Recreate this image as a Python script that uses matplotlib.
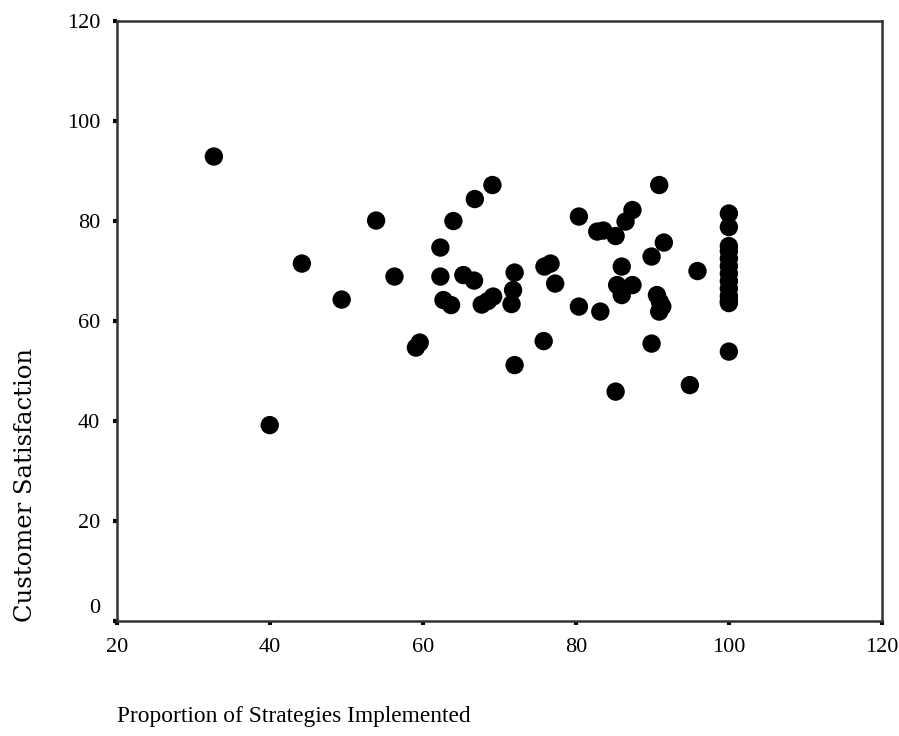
import matplotlib
matplotlib.use("Agg")
import matplotlib.pyplot as plt
from matplotlib.transforms import ScaledTranslation

# proportion of strategies implemented vs customer satisfaction
strategies = [
    32.7, 40.0, 44.2, 49.4, 53.9, 56.3, 59.1, 59.6,
    62.3, 62.3, 62.7, 63.7, 64.0, 65.3, 66.7, 66.8, 67.7, 68.5, 69.1, 69.2,
    71.6, 71.8, 72.0, 72.0, 75.8, 75.9, 76.7, 77.3,
    80.4, 80.4, 82.8, 83.2, 83.6, 85.2, 85.2, 85.4, 86.0, 86.0, 86.5, 87.4, 87.4,
    89.9, 89.9, 90.6, 90.9, 90.9, 91.0, 91.3, 91.5, 94.9, 95.9,
    100, 100, 100, 100, 100, 100, 100, 100, 100, 100, 100, 100, 100,
]
satisfaction = [
    92.9, 39.2, 71.5, 64.3, 80.1, 68.9, 54.7, 55.7,
    74.7, 68.9, 64.2, 63.2, 80.0, 69.2, 68.1, 84.4, 63.3, 64.0, 87.2, 64.9,
    63.4, 66.2, 69.7, 51.2, 56.0, 70.9, 71.5, 67.5,
    80.9, 62.9, 77.9, 61.9, 78.1, 77.0, 45.9, 67.2, 70.9, 65.2, 79.9, 82.2, 67.2,
    72.9, 55.5, 65.2, 87.2, 61.9, 63.8, 62.9, 75.7, 47.2, 70.0,
    81.5, 78.8, 75.0, 74.0, 72.5, 71.0, 69.5, 68.0, 66.5, 65.0, 64.0, 63.6, 53.9,
]

x_ticks = [20, 40, 60, 80, 100, 120]
y_ticks = [0, 20, 40, 60, 80, 100, 120]

plt.rcParams["font.family"] = ["Liberation Serif", "DejaVu Serif"]

fig = plt.figure(figsize=(8.99, 7.36), dpi=100)
ax = fig.add_axes([0.1298, 0.156, 0.8512, 0.8155])

ax.scatter(strategies, satisfaction, s=175, color="black", edgecolors="none",
           zorder=3, clip_on=False)

ax.set_xlim(20, 120)
ax.set_ylim(0, 120)
ax.set_xticks(x_ticks)
ax.set_yticks(y_ticks)
ax.tick_params(axis="both", direction="out", length=3, width=3,
               labelsize=16, colors="black")
ax.tick_params(axis="x", pad=9)
ax.tick_params(axis="y", pad=9)

for side in ["left", "bottom", "top", "right"]:
    ax.spines[side].set_linewidth(1.8)
    ax.spines[side].set_color("#333333")

# the 0 label sits a little above its tick, as in the original
for lab in ax.get_yticklabels():
    if lab.get_text() == "0":
        lab.set_transform(lab.get_transform() +
                          ScaledTranslation(0, 0.15, fig.dpi_scale_trans))

fig.text(0.13, 0.027, "Proportion of Strategies Implemented",
         fontsize=16.8, ha="left", va="center")
fig.text(0.028, 0.155, "Customer Satisfaction", fontsize=17.5,
         family=["DejaVu Serif"],
         rotation=90, ha="center", va="bottom")

plt.savefig("out.png", dpi=100, facecolor="white")
